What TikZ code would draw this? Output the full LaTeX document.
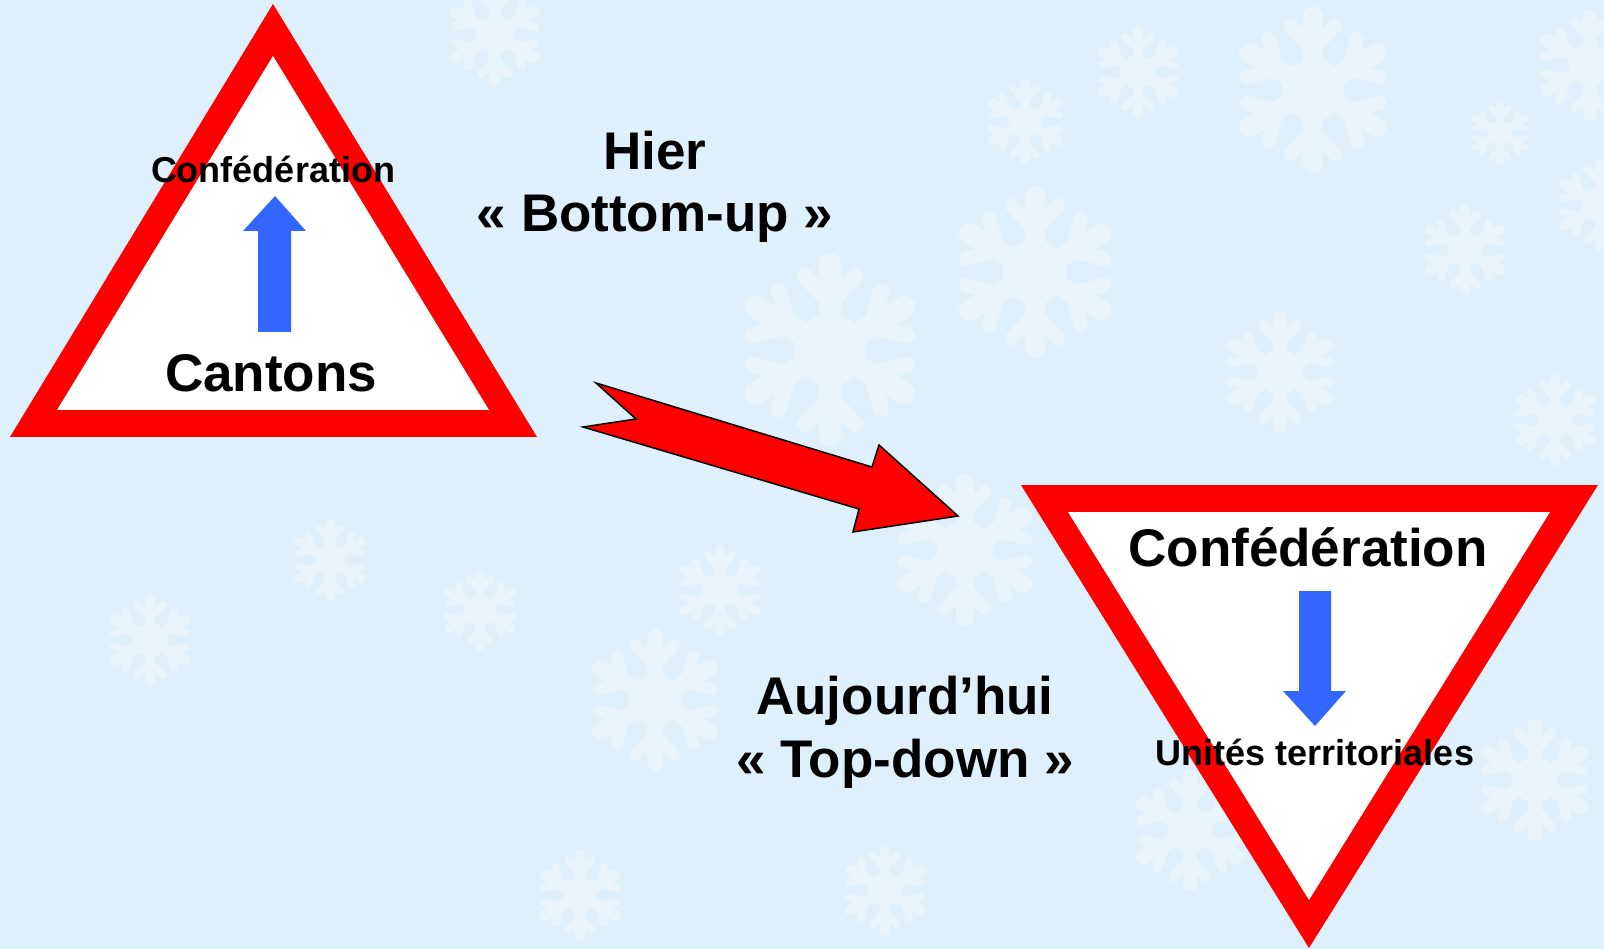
\documentclass[tikz,border=0pt]{standalone}
\usepackage{fontspec}
\setmainfont{Liberation Sans}
\definecolor{bgblue}{RGB}{221,240,251}
\definecolor{flakec}{RGB}{232,245,252}
\definecolor{signred}{RGB}{255,0,0}
\definecolor{arrowblue}{RGB}{51,102,255}
\newcommand\myflake[3]{%
 \begin{scope}[shift={(#1,#2)}]
  \fill[flakec] (0,0) circle ({0.38*#3});
  \foreach \a in {0,60,...,300}{
   \draw[flakec, line cap=round, line width={0.24*#3*1pt}, rotate=\a] (0,0) -- (0,{0.9*#3});
   \draw[flakec, line cap=round, line width={0.17*#3*1pt}, rotate=\a] (0,{0.5*#3}) -- ++({0.27*#3},{0.28*#3}) (0,{0.5*#3}) -- ++({-0.27*#3},{0.28*#3});
  }
 \end{scope}}
\begin{document}
\begin{tikzpicture}[x=1pt,y=-1pt,
  bigtxt/.style={font=\fontsize{53}{60}\selectfont\bfseries, inner sep=0pt, anchor=base},
  smalltxt/.style={font=\fontsize{36}{42}\selectfont\bfseries, inner sep=0pt, anchor=base},
  signborder/.style={fill=signred},
  signinner/.style={fill=white},
  bluearrow/.style={fill=arrowblue},
  redarrow/.style={fill=signred, draw=black, line width=1.5pt, line join=miter}]
\fill[bgblue] (0,0) rectangle (1604,949);
\useasboundingbox (0,0) rectangle (1604,949);
% faint snowflakes
\myflake{1313}{90}{82}
\myflake{1138}{72}{45}
\myflake{1025}{122}{42}
\myflake{1035}{272}{85}
\myflake{1280}{372}{60}
\myflake{1465}{250}{45}
\myflake{1500}{133}{32}
\myflake{1590}{65}{55}
\myflake{1600}{205}{45}
\myflake{495}{35}{50}
\myflake{830}{350}{95}
\myflake{965}{550}{75}
\myflake{655}{700}{70}
\myflake{1190}{830}{60}
\myflake{885}{890}{45}
\myflake{1535}{780}{60}
\myflake{580}{895}{45}
\myflake{1555}{420}{45}
\myflake{720}{590}{45}
\myflake{480}{610}{40}
\myflake{150}{640}{45}
\myflake{330}{560}{40}
% left triangle
\fill[signborder] (273,4) -- (10,437) -- (537,437) -- cycle;
\fill[signinner] (273,56) -- (57,410) -- (489,410) -- cycle;
\fill[bluearrow] (275,196) -- (306,231) -- (291,231) -- (291,332) -- (258,332) -- (258,231) -- (243,231) -- cycle;
\node[smalltxt] (confA) at (273,183) {Confédération};
\node[bigtxt] (cantons) at (271,392) {Cantons};
% titles
\node[bigtxt] (hier) at (655,170) {Hier};
\node[bigtxt] (bu) at (655,232) {« Bottom-up »};
\node[bigtxt] (auj) at (905,714) {Aujourd’hui};
\node[bigtxt] (td) at (905,777) {« Top-down »};
% red arrow
\draw[redarrow] (596,383) -- (636,419) -- (583,427) -- (859,509) -- (853,532) -- (958,516) -- (879,445) -- (872,467) -- cycle;
% right triangle
\fill[signborder] (1021,485) -- (1598,485) -- (1309,948) -- cycle;
\fill[signinner] (1068,512) -- (1550,512) -- (1309,900) -- cycle;
\fill[bluearrow] (1299,591) -- (1331,591) -- (1331,691) -- (1346,691) -- (1315,726) -- (1283,691) -- (1299,691) -- cycle;
\node[bigtxt] (confB) at (1308,566) {Confédération};
\node[smalltxt] (units) at (1315,765) {Unités territoriales};
\end{tikzpicture}
\end{document}
